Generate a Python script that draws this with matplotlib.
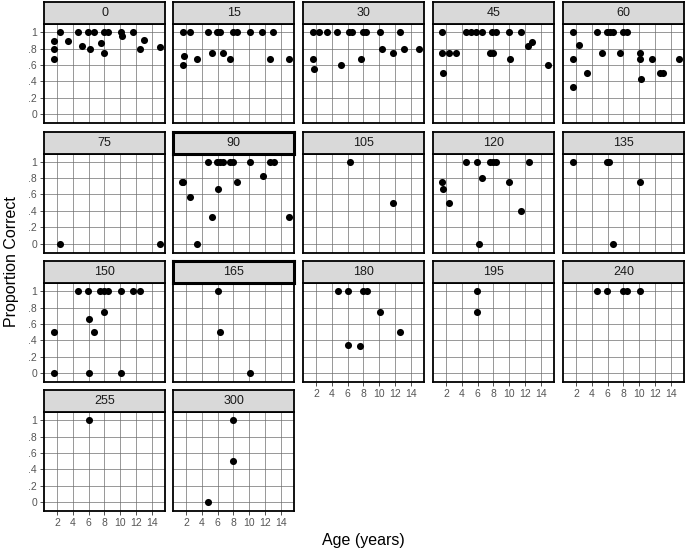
import matplotlib
matplotlib.use("Agg")
import matplotlib.pyplot as plt

# ---------------------------------------------------------
# DATA: age (years) and proportion correct, one pair per facet
# ---------------------------------------------------------
conditions = ["0", "15", "30", "45", "60", "75", "90", "105", "120",
              "135", "150", "165", "180", "195", "240", "255", "300"]

age_0 = [1.66, 1.66, 1.58, 2.42, 3.35, 4.65, 5.2, 5.87, 6.2, 6.63, 7.56,
         7.9, 7.9, 8.4, 10.1, 10.25, 11.6, 12.57, 13.0, 15.1]
prop_0 = [0.89, 0.8, 0.67, 1, 0.89, 1, 0.83, 1, 0.8, 1, 0.87,
          1, 0.75, 1, 1, 0.955, 1, 0.8, 0.9, 0.82]

age_15 = [1.66, 2.5, 1.7, 1.62, 3.4, 4.74, 5.3, 5.96, 6.3, 6.7, 7.6,
          7.96, 8.46, 10.15, 11.6, 12.6, 13.05, 15.1]
prop_15 = [1, 1, 0.715, 0.6, 0.67, 1, 0.75, 1, 1, 0.75, 0.67,
           1, 1, 1, 1, 0.67, 1, 0.67]

age_30 = [1.66, 1.66, 1.7, 2.4, 3.4, 4.7, 5.2, 6.2, 6.6, 7.7, 8.0, 8.35,
          10.1, 10.33, 11.7, 12.6, 13.15, 15.1]
prop_30 = [1, 0.67, 0.55, 1, 1, 1, 0.6, 1, 1, 0.67, 1, 1,
           1, 0.8, 0.75, 1, 0.8, 0.8]

age_45 = [1.55, 1.55, 1.6, 2.38, 3.3, 4.58, 5.2, 5.84, 6.6, 7.86, 8.28,
          7.6, 7.94, 10.04, 11.56, 10.17, 12.4, 12.9, 14.9]
prop_45 = [1, 0.75, 0.5, 0.75, 0.75, 1, 1, 1, 1, 1, 1,
           0.75, 0.75, 1, 1, 0.67, 0.83, 0.875, 0.6]

age_60 = [1.62, 2.38, 1.62, 1.62, 3.39, 4.65, 5.28, 5.9, 6.33, 6.75, 7.6,
          7.93, 8.44, 10.1, 10.1, 10.25, 11.67, 12.6, 13.05, 15.1]
prop_60 = [1, 0.84, 0.67, 0.33, 0.5, 1, 0.75, 1, 1, 1, 0.75,
           1, 1, 0.75, 0.67, 0.43, 0.67, 0.5, 0.5, 0.67]

age_75 = [2.42, 15.1]
prop_75 = [0, 0]

age_90 = [1.55, 1.65, 2.46, 3.4, 4.74, 5.3, 5.96, 6.3, 6.7, 6.08, 7.6,
          7.96, 8.46, 10.1, 11.7, 12.6, 13.1, 15.1]
prop_90 = [0.75, 0.75, 0.57, 0, 1, 0.33, 1, 1, 1, 0.67, 1,
           1, 0.75, 1, 0.83, 1, 1, 0.33]

age_105 = [6.33, 11.7]
prop_105 = [1, 0.5]

age_120 = [1.55, 1.6, 2.38, 4.6, 5.9, 6.6, 6.17, 7.52, 7.94, 8.36,
           10.04, 11.56, 12.48]
prop_120 = [0.75, 0.67, 0.5, 1, 1, 0.8, 0, 1, 1, 1, 0.75, 0.4, 1]

age_135 = [1.62, 5.9, 6.24, 10.1, 6.67]
prop_135 = [1, 1, 1, 0.75, 0]

age_150 = [1.66, 1.58, 4.65, 5.99, 6.0, 6.0, 6.67, 7.45, 7.9, 8.4, 7.9,
           10.1, 10.1, 11.6, 12.57]
prop_150 = [0.5, 0, 1, 1, 0.66, 0, 0.5, 1, 1, 1, 0.75,
            1, 0, 1, 1]

age_165 = [6.04, 6.3, 10.1]
prop_165 = [1, 0.5, 0]

age_180 = [4.73, 6.0, 7.93, 8.44, 6.0, 7.6, 10.1, 12.6]
prop_180 = [1, 1, 1, 1, 0.34, 0.33, 0.75, 0.5]

age_195 = [5.9, 5.9]
prop_195 = [1, 0.75]

age_240 = [4.65, 5.9, 7.93, 8.44, 10.1]
prop_240 = [1, 1, 1, 1, 1]

age_255 = [6.0]
prop_255 = [1]

age_300 = [7.98, 7.98, 4.74]
prop_300 = [1, 0.5, 0]

ages = [age_0, age_15, age_30, age_45, age_60, age_75, age_90, age_105,
        age_120, age_135, age_150, age_165, age_180, age_195, age_240,
        age_255, age_300]
props = [prop_0, prop_15, prop_30, prop_45, prop_60, prop_75, prop_90,
         prop_105, prop_120, prop_135, prop_150, prop_165, prop_180,
         prop_195, prop_240, prop_255, prop_300]

x_ticks = [2, 4, 6, 8, 10, 12, 14]
y_ticks = [0, 0.2, 0.4, 0.6, 0.8, 1]
y_tick_labels = ["0", ".2", ".4", ".6", ".8", "1"]

# ---------------------------------------------------------
# LAYOUT (pixels)
# ---------------------------------------------------------
W, H = 685, 552
plt.rcParams["font.family"] = ["Liberation Sans", "DejaVu Sans"]

fig = plt.figure(figsize=(W / 100, H / 100), dpi=100)

col_left = [44, 173, 303, 433, 563]
panel_w = 121
row_top = [2, 131.5, 261, 390]
strip_h = 22
axes_h = 99
n_cols = 5
n_panels = len(conditions)
thick_strips = {"90", "165"}


def px_box(left, top, w, h):
    return [left / W, 1 - (top + h) / H, w / W, h / H]


for k, cond in enumerate(conditions):
    r, c = divmod(k, n_cols)
    left = col_left[c]
    top = row_top[r]

    # panel
    ax = fig.add_axes(px_box(left, top + strip_h, panel_w, axes_h))
    ax.set_xlim(0.36, 15.68)
    ax.set_ylim(-0.11, 1.1)
    ax.set_xticks(x_ticks)
    ax.set_yticks(y_ticks)
    ax.grid(True, color="#6e6e6e", linewidth=0.5)
    ax.set_axisbelow(True)
    ax.scatter(ages[k], props[k], s=26, color="black", zorder=3,
               linewidths=0)
    for sp in ax.spines.values():
        sp.set_linewidth(1.3)
        sp.set_color("black")

    ax.tick_params(length=3, width=0.6, color="#333333",
                   labelsize=7.5, labelcolor="#555555", pad=2)
    if c == 0:
        ax.set_yticklabels(y_tick_labels)
    else:
        ax.tick_params(axis="y", labelleft=False, length=0)

    # x labels only where no panel sits below
    if k + n_cols >= n_panels:
        ax.set_xticklabels([str(t) for t in x_ticks])
    else:
        ax.tick_params(axis="x", labelbottom=False, length=0)

    # strip (drawn after panel so its border sits on top)
    sax = fig.add_axes(px_box(left, top, panel_w, strip_h))
    sax.set_facecolor("#d9d9d9")
    sax.set_xticks([])
    sax.set_yticks([])
    lw_strip = 2.2 if cond in thick_strips else 1.3
    for sp in sax.spines.values():
        sp.set_linewidth(lw_strip)
        sp.set_color("black")
    sax.text(0.5, 0.5, cond, ha="center", va="center", fontsize=9,
             color="#1a1a1a", transform=sax.transAxes)

fig.text(363 / W, 1 - 541 / H, "Age (years)", ha="center", va="center",
         fontsize=11.5, color="black")
fig.text(12 / W, 1 - 262 / H, "Proportion Correct", ha="center",
         va="center", rotation=90, fontsize=11.5, color="black")

fig.savefig("out.png", dpi=100)
